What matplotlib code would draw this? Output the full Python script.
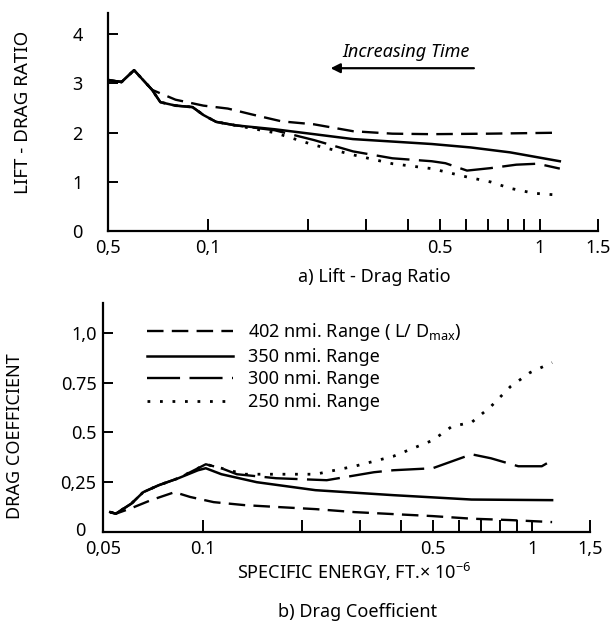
import matplotlib
matplotlib.use("Agg")
import matplotlib.pyplot as plt
from matplotlib.transforms import ScaledTranslation

plt.rcParams['font.family'] = ['Noto Sans Condensed', 'Liberation Sans Narrow', 'Noto Sans', 'DejaVu Sans']
plt.rcParams['font.stretch'] = 'condensed'
plt.rcParams['font.weight'] = 'bold'
plt.rcParams['mathtext.default'] = 'regular'

# a) lift-drag ratio vs specific energy (ft x 1e-6)
ld_402_x = [0.05, 0.055, 0.060, 0.068, 0.080, 0.097, 0.115, 0.136, 0.167, 0.209, 0.274, 0.36, 0.473, 0.70, 1.15]
ld_402_y = [3.07, 3.03, 3.27, 2.87, 2.67, 2.55, 2.49, 2.37, 2.23, 2.17, 2.03, 1.98, 1.97, 1.98, 2.0]

ld_350_x = [0.05, 0.055, 0.060, 0.068, 0.072, 0.080, 0.090, 0.097, 0.106, 0.121, 0.159, 0.209, 0.274, 0.36, 0.473, 0.62, 0.815, 1.15]
ld_350_y = [3.07, 3.03, 3.27, 2.87, 2.62, 2.55, 2.52, 2.36, 2.22, 2.15, 2.07, 1.97, 1.87, 1.82, 1.77, 1.70, 1.60, 1.42]

ld_300_x = [0.05, 0.055, 0.060, 0.068, 0.072, 0.080, 0.090, 0.097, 0.106, 0.121, 0.159, 0.209, 0.274, 0.36, 0.473, 0.52, 0.604, 0.711, 0.85, 0.986, 1.15]
ld_300_y = [3.07, 3.03, 3.27, 2.87, 2.62, 2.55, 2.52, 2.36, 2.22, 2.15, 2.05, 1.85, 1.62, 1.48, 1.42, 1.38, 1.23, 1.28, 1.35, 1.37, 1.27]

ld_250_x = [0.05, 0.055, 0.060, 0.068, 0.072, 0.080, 0.090, 0.097, 0.106, 0.121, 0.159, 0.209, 0.274, 0.36, 0.473, 0.604, 0.711, 0.815, 0.96, 1.15]
ld_250_y = [3.07, 3.03, 3.27, 2.87, 2.62, 2.55, 2.52, 2.36, 2.22, 2.15, 2.00, 1.75, 1.55, 1.37, 1.27, 1.10, 1.00, 0.87, 0.77, 0.73]

# b) drag coefficient
cd_402_x = [0.0524, 0.0545, 0.0608, 0.0697, 0.0822, 0.0916, 0.108, 0.134, 0.167, 0.22, 0.289, 0.379, 0.499, 0.655, 0.86, 1.15]
cd_402_y = [0.10, 0.092, 0.12, 0.16, 0.20, 0.176, 0.15, 0.135, 0.126, 0.115, 0.10, 0.09, 0.08, 0.067, 0.06, 0.05]

cd_350_x = [0.0524, 0.0545, 0.0608, 0.066, 0.0736, 0.0844, 0.0968, 0.1022, 0.114, 0.146, 0.22, 0.379, 0.655, 1.15]
cd_350_y = [0.10, 0.092, 0.143, 0.20, 0.235, 0.27, 0.31, 0.32, 0.29, 0.25, 0.21, 0.185, 0.163, 0.16]

cd_300_x = [0.0524, 0.0545, 0.0608, 0.066, 0.0736, 0.0844, 0.0968, 0.1022, 0.114, 0.127, 0.167, 0.238, 0.331, 0.379, 0.499, 0.655, 0.75, 0.908, 1.07, 1.15]
cd_300_y = [0.10, 0.092, 0.143, 0.20, 0.235, 0.27, 0.32, 0.34, 0.32, 0.29, 0.27, 0.26, 0.30, 0.31, 0.32, 0.39, 0.37, 0.33, 0.33, 0.36]

cd_250_x = [0.0524, 0.0545, 0.0608, 0.066, 0.0736, 0.0844, 0.0968, 0.1022, 0.114, 0.134, 0.22, 0.289, 0.379, 0.499, 0.571, 0.655, 0.75, 0.86, 0.986, 1.15]
cd_250_y = [0.10, 0.092, 0.143, 0.20, 0.235, 0.27, 0.32, 0.34, 0.32, 0.29, 0.29, 0.33, 0.38, 0.46, 0.53, 0.55, 0.63, 0.73, 0.80, 0.85]

labels = ['402 nmi. Range ( L/ D$_{max}$)', '350 nmi. Range', '300 nmi. Range', '250 nmi. Range']

x_ticks = [0.05, 0.1, 0.2, 0.3, 0.4, 0.5, 0.6, 0.7, 0.8, 0.9, 1.0, 1.5]
top_xlabels = ['0,5', '0,1', '', '', '', '0.5', '', '', '', '', '1', '1.5']
bot_xlabels = ['0,05', '0.1', '', '', '', '0.5', '', '', '', '', '1', '1,5']

styles = [
    dict(color='black', lw=1.7, ls=(0, (7, 3.5))),
    dict(color='black', lw=1.8, ls='-'),
    dict(color='black', lw=1.7, ls=(0, (14, 4))),
    dict(color='black', lw=2.0, ls=(0, (1, 3.5))),
]

fig = plt.figure(figsize=(6.16, 6.23), dpi=100)
ax1 = fig.add_axes([0.175, 0.629, 0.796, 0.35])
ax2 = fig.add_axes([0.168, 0.146, 0.790, 0.368])

for xs, ys, st in zip([ld_402_x, ld_350_x, ld_300_x, ld_250_x],
                      [ld_402_y, ld_350_y, ld_300_y, ld_250_y], styles):
    ax1.plot(xs, ys, **st)

for xs, ys, st, lab in zip([cd_402_x, cd_350_x, cd_300_x, cd_250_x],
                           [cd_402_y, cd_350_y, cd_300_y, cd_250_y], styles, labels):
    ax2.plot(xs, ys, label=lab, **st)

for ax, xl in [(ax1, top_xlabels), (ax2, bot_xlabels)]:
    ax.set_xscale('log')
    ax.set_xlim(0.05, 1.5)
    ax.spines['top'].set_visible(False)
    ax.spines['right'].set_visible(False)
    ax.spines['left'].set_linewidth(1.6)
    ax.spines['bottom'].set_linewidth(1.6)
    ax.minorticks_off()
    ax.set_xticks(x_ticks)
    ax.set_xticklabels(xl)
    ax.tick_params(axis='x', direction='in', length=9, width=1.4, pad=6, labelsize=13)

ax1.tick_params(axis='y', direction='in', length=7, width=1.4, pad=18, labelsize=13)
ax2.tick_params(axis='y', direction='in', length=7, width=1.4, pad=5, labelsize=13)

ax1.set_ylim(0, 4.43)
ax1.set_yticks([0, 1, 2, 3, 4])
ax1.set_yticklabels(['0', '1', '2', '3', '4'])

ax2.set_ylim(0, 1.15)
ax2.set_yticks([0, 0.25, 0.5, 0.75, 1.0])
ax2.set_yticklabels(['0', '0,25', '0.5', '0.75', '1,0'])

# nudge the "0" of the lower panel left so it clears "0,05"
zero_lab = ax2.get_yticklabels()[0]
zero_lab.set_transform(zero_lab.get_transform() + ScaledTranslation(-8 / 72, 2 / 72, fig.dpi_scale_trans))

ax1.annotate('', xy=(0.23, 3.31), xytext=(0.646, 3.31),
             arrowprops=dict(arrowstyle='-|>', color='black', lw=1.6, mutation_scale=14))
ax1.text(0.397, 3.63, 'Increasing Time', fontsize=13, style='italic', ha='center', va='center')

ax2.legend(loc='upper left', bbox_to_anchor=(0.055, 0.99), frameon=False, fontsize=13,
           handlelength=4.8, labelspacing=0.25, handletextpad=0.8)

fig.text(0.607, 0.555, 'a) Lift - Drag Ratio', fontsize=13, ha='center', va='center')
fig.text(0.575, 0.082, 'SPECIFIC ENERGY, FT.$\\times$ 10$^{-6}$', fontsize=13, ha='center', va='center')
fig.text(0.58, 0.018, 'b) Drag Coefficient', fontsize=13, ha='center', va='center')
fig.text(0.037, 0.82, 'LIFT - DRAG RATIO', fontsize=13.5, rotation=90, ha='center', va='center')
fig.text(0.024, 0.30, 'DRAG COEFFICIENT', fontsize=13, rotation=90, ha='center', va='center')

fig.savefig('out.png', dpi=100)
